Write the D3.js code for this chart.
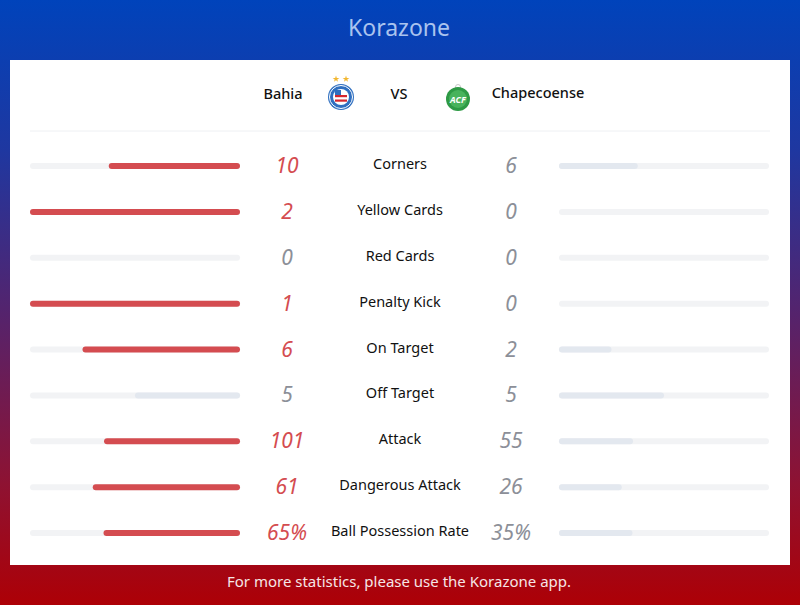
<!DOCTYPE html>
<html>
<head>
<meta charset="utf-8">
<script src="https://cdn.jsdelivr.net/npm/d3@7"></script>
<style>
  body { margin: 0; padding: 0; }
  svg { display: block; font-family: "Noto Sans", "Open Sans", sans-serif; }
</style>
</head>
<body>
<div id="chart"></div>
<script>
////////////////////////////////////////////////////////////////
// Data

var homeTeam = "Bahia";
var awayTeam = "Chapecoense";
var statLabels = ["Corners", "Yellow Cards", "Red Cards", "Penalty Kick", "On Target",
    "Off Target", "Attack", "Dangerous Attack", "Ball Possession Rate"];
var homeValues = [10, 2, 0, 1, 6, 5, 101, 61, 65];
var awayValues = [6, 0, 0, 0, 2, 5, 55, 26, 35];
var valueSuffix = ["", "", "", "", "", "", "", "", "%"];

////////////////////////////////////////////////////////////////
// Basic parameters

var svgWidth = 800;
var svgHeight = 605;
var card = { left: 10, top: 60, right: 790, bottom: 565 };
var trackLen = 210;
var leftTrackEnd = 240;
var rightTrackStart = 559;
var barH = 6;

var svg = d3.select("#chart")
    .append("svg")
    .attr("width", svgWidth)
    .attr("height", svgHeight);

// background gradient
var defs = svg.append("defs");
var grad = defs.append("linearGradient")
    .attr("id", "bg")
    .attr("x1", 0).attr("y1", 0).attr("x2", 0).attr("y2", 1);
grad.append("stop").attr("offset", "0%").attr("stop-color", "#0043bb");
grad.append("stop").attr("offset", "25%").attr("stop-color", "#1f37a0");
grad.append("stop").attr("offset", "52%").attr("stop-color", "#55236c");
grad.append("stop").attr("offset", "80%").attr("stop-color", "#8e1232");
grad.append("stop").attr("offset", "100%").attr("stop-color", "#ad0006");

svg.append("rect")
    .attr("width", svgWidth)
    .attr("height", svgHeight)
    .attr("fill", "url(#bg)");

// title
svg.append("text")
    .attr("x", 399)
    .attr("y", 36)
    .attr("text-anchor", "middle")
    .attr("font-size", 23)
    .attr("fill", "#aac3ee")
    .text("Korazone");

// white card
svg.append("rect")
    .attr("x", card.left)
    .attr("y", card.top)
    .attr("width", card.right - card.left)
    .attr("height", card.bottom - card.top)
    .attr("fill", "#ffffff");

// footer
svg.append("text")
    .attr("x", 399)
    .attr("y", 587)
    .attr("text-anchor", "middle")
    .attr("font-size", 15)
    .attr("fill", "#f6e6e6")
    .text("For more statistics, please use the Korazone app.");

////////////////////////////////////////////////////////////////
// Team header

var header = svg.append("g");
header.append("text")
    .attr("x", 283).attr("y", 99)
    .attr("text-anchor", "middle")
    .attr("font-size", 14.5)
    .attr("font-weight", 500)
    .attr("fill", "#111")
    .text(homeTeam);
header.append("text")
    .attr("x", 399).attr("y", 99)
    .attr("text-anchor", "middle")
    .attr("font-size", 14.5)
    .attr("font-weight", 500)
    .attr("fill", "#111")
    .text("VS");
header.append("text")
    .attr("x", 538).attr("y", 98)
    .attr("text-anchor", "middle")
    .attr("font-size", 14.5)
    .attr("font-weight", 500)
    .attr("fill", "#111")
    .text(awayTeam);

// Bahia crest
var bahia = header.append("g").attr("transform", "translate(341, 97)");
bahia.append("circle").attr("r", 13).attr("fill", "#2f6fc0");
bahia.append("circle").attr("r", 11.5).attr("fill", "none").attr("stroke", "#ffffff").attr("stroke-width", 1);
bahia.append("circle").attr("r", 8).attr("fill", "#ffffff");
bahia.append("rect").attr("x", -6).attr("y", -2).attr("width", 12).attr("height", 2.2).attr("fill", "#d6262e");
bahia.append("rect").attr("x", -6).attr("y", 2.5).attr("width", 12).attr("height", 2.2).attr("fill", "#d6262e");
bahia.append("rect").attr("x", -6).attr("y", -7).attr("width", 6).attr("height", 5).attr("fill", "#2f6fc0");
bahia.selectAll("path.star")
    .data([-5, 5])
    .enter()
    .append("path")
    .attr("class", "star")
    .attr("d", d3.symbol().type(d3.symbolStar).size(14))
    .attr("transform", d => `translate(${d}, -18)`)
    .attr("fill", "#f2b731");

// Chapecoense crest
var chape = header.append("g").attr("transform", "translate(458, 99)");
chape.append("circle").attr("cy", -12).attr("r", 2.5).attr("fill", "none").attr("stroke", "#c9c9c9").attr("stroke-width", 1);
chape.append("circle").attr("r", 12).attr("fill", "#2e9a45");
chape.append("circle").attr("r", 9).attr("fill", "#48b35c");
chape.append("text")
    .attr("y", 3.5)
    .attr("text-anchor", "middle")
    .attr("font-size", 9)
    .attr("font-style", "italic")
    .attr("font-weight", 700)
    .attr("fill", "#ffffff")
    .text("ACF");

// separator
svg.append("line")
    .attr("x1", 30).attr("x2", 770)
    .attr("y1", 131).attr("y2", 131)
    .attr("stroke", "#eef0f3")
    .attr("stroke-width", 1);

////////////////////////////////////////////////////////////////
// Stat rows

var yScale = d3.scalePoint()
    .domain(statLabels)
    .range([166, 533]);

var share = d3.scaleLinear()
    .domain([0, 1])
    .range([0, trackLen]);

var rows = svg.append("g")
    .selectAll("g")
    .data(statLabels.map((label, i) => ({
        label: label,
        home: homeValues[i],
        away: awayValues[i],
        suffix: valueSuffix[i]
    })))
    .enter()
    .append("g")
    .attr("transform", d => `translate(0, ${yScale(d.label)})`);

function frac(v, d) {
    var total = d.home + d.away;
    return total === 0 ? 0 : v / total;
}

var red = "#d44c50";
var pale = "#e3e8ef";
var track = "#f2f3f5";

// tracks
rows.append("rect")
    .attr("x", leftTrackEnd - trackLen).attr("y", -barH / 2)
    .attr("width", trackLen).attr("height", barH).attr("rx", barH / 2)
    .attr("fill", track);
rows.append("rect")
    .attr("x", rightTrackStart).attr("y", -barH / 2)
    .attr("width", trackLen).attr("height", barH).attr("rx", barH / 2)
    .attr("fill", track);

// home bars (grow leftwards)
rows.filter(d => d.home > 0)
    .append("rect")
    .attr("x", d => leftTrackEnd - share(frac(d.home, d)))
    .attr("y", -barH / 2)
    .attr("width", d => share(frac(d.home, d)))
    .attr("height", barH).attr("rx", barH / 2)
    .attr("fill", d => d.home > d.away ? red : pale);

// away bars (grow rightwards)
rows.filter(d => d.away > 0)
    .append("rect")
    .attr("x", rightTrackStart)
    .attr("y", -barH / 2)
    .attr("width", d => share(frac(d.away, d)))
    .attr("height", barH).attr("rx", barH / 2)
    .attr("fill", d => d.away > d.home ? red : pale);

// values
rows.append("text")
    .attr("x", 287).attr("y", 7)
    .attr("text-anchor", "middle")
    .attr("font-size", 21)
    .attr("font-style", "italic")
    .attr("fill", d => d.home > d.away ? red : "#8c8f98")
    .text(d => d.home + d.suffix);
rows.append("text")
    .attr("x", 511).attr("y", 7)
    .attr("text-anchor", "middle")
    .attr("font-size", 21)
    .attr("font-style", "italic")
    .attr("fill", d => d.away > d.home ? red : "#8c8f98")
    .text(d => d.away + d.suffix);

// labels
rows.append("text")
    .attr("x", 400).attr("y", 3)
    .attr("text-anchor", "middle")
    .attr("font-size", 14.5)
    .attr("font-weight", 400)
    .attr("fill", "#111")
    .text(d => d.label);
</script>
</body>
</html>
